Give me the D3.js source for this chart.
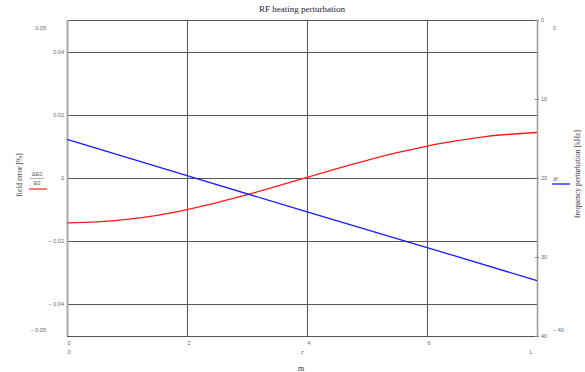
<!DOCTYPE html>
<html>
<head>
<meta charset="utf-8">
<script src="https://cdn.jsdelivr.net/npm/d3@7"></script>
<style>
body { margin:0; background:#fff; }
svg text { font-family: "Liberation Sans", Arial, sans-serif; }
.serif { font-family: "Liberation Serif", "Times New Roman", serif !important; }
</style>
</head>
<body>
<div id="chart"></div>
<script>
// field error (left axis) read along z
var zErr   = [0, 0.5, 1, 1.5, 2, 2.5, 3, 3.5, 4, 4.5, 5, 5.5, 6, 6.5, 7, 7.5, 7.83];
var errVal = [-0.0142, -0.0139, -0.0131, -0.0118, -0.0100, -0.0078, -0.0053, -0.0026, 0.0002,
              0.0030, 0.0056, 0.0080, 0.0101, 0.0118, 0.0132, 0.0140, 0.0144];
// frequency perturbation (right axis, kHz)
var zFreq   = [0, 2, 4, 6, 7.83];
var freqVal = [15.1, 19.7, 24.3, 28.8, 33.0];

var leftTicks  = [0.04, 0.02, 0, -0.02, -0.04];
var rightTicks = [0, 10, 20, 30, 40];
var xTicks     = [0, 2, 4, 6];

var margin = { top:20, right:48, bottom:36, left:67 },
	width = 537 - 67,
	height = 336 - 20;

var x  = d3.scaleLinear().domain([0, 7.83]).range([0, width]);
var y  = d3.scaleLinear().domain([-0.05, 0.05]).range([height, 0]);
var y2 = d3.scaleLinear().domain([0, 40]).range([0, height]);

var svg = d3.select("#chart").append("svg")
	.attr("width", 585).attr("height", 372);

var g = svg.append("g").attr("transform", "translate(" + margin.left + "," + margin.top + ")");

// grid
g.selectAll(".hg").data(leftTicks).enter().append("line")
	.attr("x1", 0).attr("x2", width)
	.attr("y1", function(d) { return Math.round(y(d)) + 0.5; })
	.attr("y2", function(d) { return Math.round(y(d)) + 0.5; })
	.attr("stroke", "#555").attr("stroke-width", 1);
g.selectAll(".vg").data(xTicks.slice(1)).enter().append("line")
	.attr("y1", 0).attr("y2", height)
	.attr("x1", function(d) { return Math.round(x(d)) + 0.5; })
	.attr("x2", function(d) { return Math.round(x(d)) + 0.5; })
	.attr("stroke", "#555").attr("stroke-width", 1);

// frame
g.append("line").attr("x1", 0).attr("x2", width).attr("y1", 0.5).attr("y2", 0.5).attr("stroke", "#555");
g.append("line").attr("x1", 0).attr("x2", width).attr("y1", height + 0.5).attr("y2", height + 0.5).attr("stroke", "#555");
g.append("line").attr("x1", 0.5).attr("x2", 0.5).attr("y1", 0).attr("y2", height).attr("stroke", "#aaa").attr("stroke-width", 2);
g.append("line").attr("x1", width + 0.5).attr("x2", width + 0.5).attr("y1", 0).attr("y2", height).attr("stroke", "#999").attr("stroke-width", 1.5);

// left tick labels
g.selectAll(".lt").data(leftTicks).enter().append("text")
	.attr("x", -3).attr("y", function(d) { return y(d) + 2; })
	.attr("text-anchor", "end").attr("font-size", 5.5).attr("fill", "#666")
	.text(function(d) { return d === 0 ? "0" : (d < 0 ? "\u2212 " : "") + Math.abs(d).toFixed(2); });
svg.append("text").attr("x", 46).attr("y", 30).attr("text-anchor", "end")
	.attr("font-size", 5.5).attr("fill", "#666").text("0.05");
svg.append("text").attr("x", 46).attr("y", 332).attr("text-anchor", "end")
	.attr("font-size", 5.5).attr("fill", "#666").text("\u2212 0.05");

// right ticks
g.selectAll(".rtm").data(rightTicks).enter().append("line")
	.attr("x1", width - 2).attr("x2", width + 2)
	.attr("y1", function(d) { return y2(d) + 0.5; }).attr("y2", function(d) { return y2(d) + 0.5; })
	.attr("stroke", "#888");
g.selectAll(".rt").data(rightTicks).enter().append("text")
	.attr("x", width + 4).attr("y", function(d) { return y2(d) + 2; })
	.attr("font-size", 5.5).attr("fill", "#666")
	.text(function(d) { return d; });
svg.append("text").attr("x", 553).attr("y", 30).attr("font-size", 5.5).attr("fill", "#666").text("0");
svg.append("text").attr("x", 553).attr("y", 332).attr("font-size", 5.5).attr("fill", "#666").text("\u2212 40");

// x tick labels
g.selectAll(".xt").data(xTicks).enter().append("text")
	.attr("x", function(d) { return x(d) + 2; }).attr("y", height + 9)
	.attr("text-anchor", "middle").attr("font-size", 5.5).attr("fill", "#666")
	.text(function(d) { return d; });
svg.append("text").attr("x", 69).attr("y", 354).attr("text-anchor", "middle")
	.attr("font-size", 5.5).attr("fill", "#666").text("0");
svg.append("text").attr("x", 302).attr("y", 354).attr("text-anchor", "middle")
	.attr("font-size", 5.5).attr("fill", "#666").attr("font-style", "italic").text("z");
svg.append("text").attr("x", 531).attr("y", 354).attr("text-anchor", "middle")
	.attr("font-size", 5.5).attr("fill", "#666").text("L");
svg.append("text").attr("class", "serif").attr("x", 301).attr("y", 371).attr("text-anchor", "middle")
	.attr("font-size", 8).attr("fill", "#333").text("m");

// lines
var errLine = d3.line().curve(d3.curveMonotoneX)
	.x(function(d, i) { return x(zErr[i]); })
	.y(function(d) { return y(d); });
var freqLine = d3.line()
	.x(function(d, i) { return x(zFreq[i]); })
	.y(function(d) { return y2(d); });

g.append("path").datum(errVal).attr("d", errLine)
	.attr("fill", "none").attr("stroke", "#ff1a1a").attr("stroke-width", 1.3);
g.append("path").datum(freqVal).attr("d", freqLine)
	.attr("fill", "none").attr("stroke", "#1a1aff").attr("stroke-width", 1.3);

// title
svg.append("text").attr("class", "serif").attr("x", 302).attr("y", 12).attr("text-anchor", "middle")
	.attr("font-size", 9).attr("fill", "#223").text("RF heating perturbation");

// left axis label + legend
svg.append("text").attr("class", "serif").attr("transform", "translate(22,175) rotate(-90)")
	.attr("text-anchor", "middle").attr("font-size", 7.5).attr("fill", "#444").text("field error [%]");
svg.append("text").attr("x", 37).attr("y", 176).attr("text-anchor", "middle")
	.attr("font-size", 5.5).attr("fill", "#555").text("\u0394E0");
svg.append("line").attr("x1", 30).attr("x2", 44).attr("y1", 178.5).attr("y2", 178.5).attr("stroke", "#777").attr("stroke-width", 0.6);
svg.append("text").attr("x", 37).attr("y", 185).attr("text-anchor", "middle")
	.attr("font-size", 5.5).attr("fill", "#555").text("E0");
svg.append("line").attr("x1", 29).attr("x2", 47).attr("y1", 189).attr("y2", 189).attr("stroke", "#ff3030").attr("stroke-width", 1.3);

// right axis label + legend
svg.append("text").attr("class", "serif").attr("transform", "translate(580,174) rotate(-90)")
	.attr("text-anchor", "middle").attr("font-size", 7.5).attr("fill", "#444").text("frequency perturbation [kHz]");
svg.append("text").attr("x", 553).attr("y", 181).attr("font-size", 5.5).attr("fill", "#555")
	.attr("font-style", "italic").text("\u03b4f");
svg.append("line").attr("x1", 552).attr("x2", 570).attr("y1", 184).attr("y2", 184).attr("stroke", "#1a1aff").attr("stroke-width", 1.3);
</script>
</body>
</html>
